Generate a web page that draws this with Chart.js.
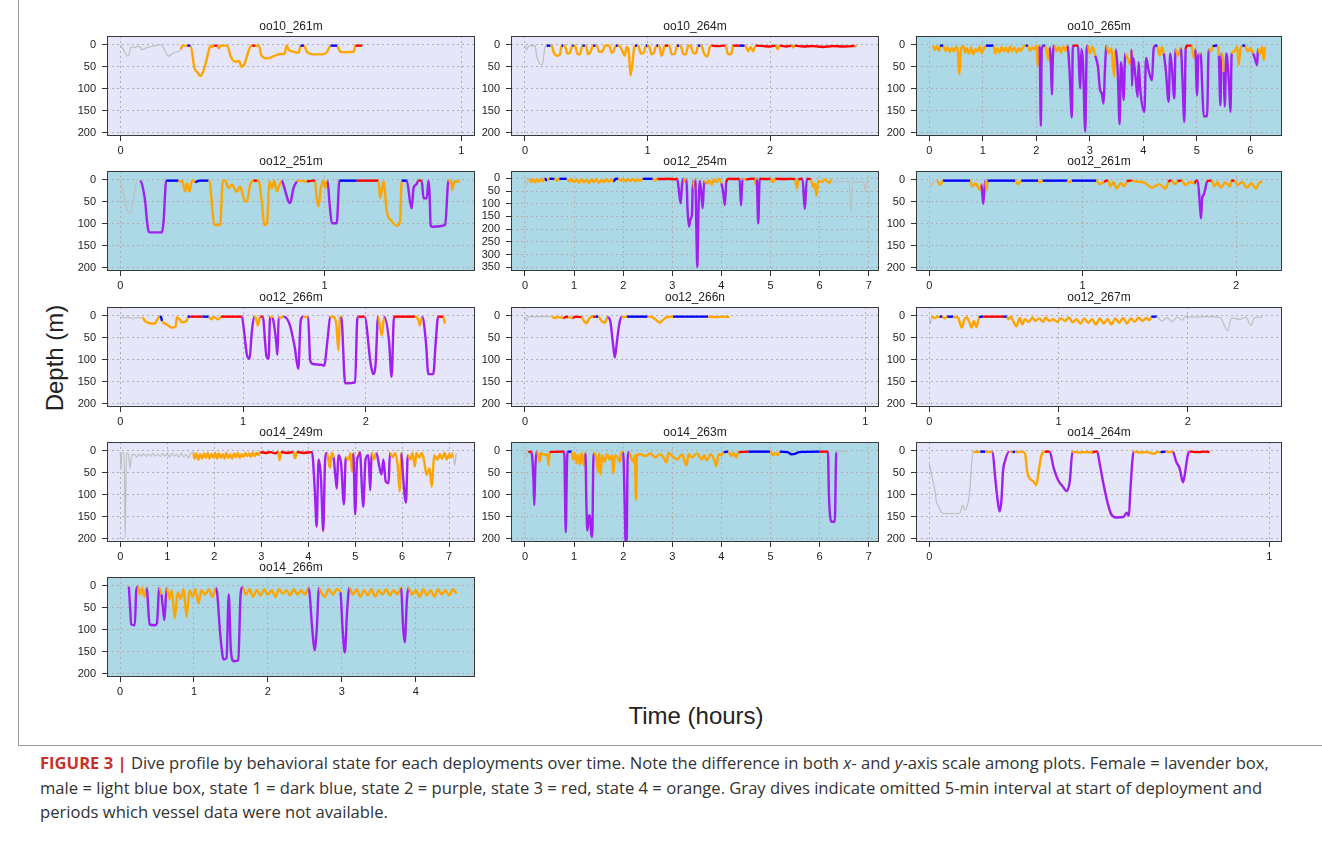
<!DOCTYPE html>
<html>
<head>
<meta charset="utf-8">
<title>Dive profiles</title>
<script src="https://cdn.jsdelivr.net/npm/chart.js@4.4.1/dist/chart.umd.min.js"></script>
<style>
  body {
    margin: 0;
    width: 1322px;
    height: 841px;
    position: relative;
    overflow: hidden;
    background: #fff;
    font-family: "Liberation Sans", Arial, sans-serif;
    color: #222;
  }
  canvas { position: absolute; }
  .frame {
    position: absolute;
    left: 18px;
    top: -2px;
    width: 1310px;
    height: 746px;
    border: 1px solid #9a9a9a;
  }
  .ylab {
    position: absolute;
    left: 55px;
    top: 358px;
    transform: translate(-50%, -50%) rotate(-90deg);
    font-size: 24px;
    white-space: nowrap;
  }
  .xlab {
    position: absolute;
    left: 696px;
    top: 716px;
    transform: translate(-50%, -50%);
    font-size: 24px;
    white-space: nowrap;
  }
  .caption {
    position: absolute;
    left: 40px;
    top: 751px;
    font-family: "Open Sans", "Liberation Sans", Arial, sans-serif;
    font-size: 16.6px;
    line-height: 24.5px;
    color: #333;
    white-space: nowrap;
  }
  .caption b { color: #c8312b; }
</style>
</head>
<body>
<div class="frame"></div>
<div class="ylab">Depth (m)</div>
<div class="xlab">Time (hours)</div>
<div class="caption"><b>FIGURE 3 |</b> Dive profile by behavioral state for each deployments over time. Note the difference in both <i>x</i>- and <i>y</i>-axis scale among plots. Female = lavender box,<br>male = light blue box, state 1 = dark blue, state 2 = purple, state 3 = red, state 4 = orange. Gray dives indicate omitted 5-min interval at start of deployment and<br>periods which vessel data were not available.</div>

<script>
// state 0 = gray (omitted), 1 = dark blue, 2 = purple, 3 = red, 4 = orange
const stateColors = ["#bebebe", "#0000ff", "#a020f0", "#ff0000", "#ffa500"];

const depthTicks = [0, 50, 100, 150, 200];
const depthTicksDeep = [0, 50, 100, 150, 200, 250, 300, 350];
const hours1 = [0, 1];
const hours2 = [0, 1, 2];
const hours4 = [0, 1, 2, 3, 4];
const hours6 = [0, 1, 2, 3, 4, 5, 6];
const hours7 = [0, 1, 2, 3, 4, 5, 6, 7];

// [time (h), depth (m)]  and state runs [start time, state]
const dive1 = [[0,0],[0.008,11],[0.022,26],[0.031,5],[0.041,6],[0.054,3],[0.063,11],[0.078,6],[0.098,3],[0.117,0],[0.127,8],[0.14,26],[0.156,18],[0.176,11],[0.181,2],[0.196,2],[0.205,2],[0.217,54],[0.225,62],[0.233,71],[0.242,62],[0.252,35],[0.264,2],[0.269,5],[0.274,2],[0.283,2],[0.288,8],[0.293,2],[0.301,2],[0.313,2],[0.323,27],[0.337,39],[0.347,37],[0.355,50],[0.364,43],[0.373,20],[0.383,2],[0.386,2],[0.396,2],[0.406,2],[0.413,24],[0.43,31],[0.45,26],[0.469,21],[0.481,21],[0.487,2],[0.494,12],[0.508,16],[0.523,18],[0.528,2],[0.538,2],[0.547,16],[0.567,22],[0.591,22],[0.606,16],[0.616,2],[0.635,2],[0.645,16],[0.66,17],[0.684,16],[0.689,2],[0.709,2]];
const state1 = [[0,0],[0.176,4],[0.196,1],[0.205,4],[0.274,3],[0.283,4],[0.386,3],[0.396,4],[0.528,1],[0.538,4],[0.616,1],[0.635,4],[0.689,3]];

const dive2 = [[0,2],[0.014,12],[0.027,3],[0.054,2],[0.082,2],[0.095,25],[0.117,42],[0.136,46],[0.149,35],[0.163,5],[0.177,2],[0.209,2],[0.217,2],[0.236,18],[0.264,25],[0.285,22],[0.299,2],[0.313,2],[0.326,2],[0.345,20],[0.367,18],[0.386,2],[0.399,2],[0.408,2],[0.427,20],[0.448,22],[0.47,2],[0.489,2],[0.497,2],[0.516,22],[0.535,16],[0.557,2],[0.576,2],[0.584,2],[0.606,16],[0.633,15],[0.652,2],[0.68,2],[0.688,2],[0.707,18],[0.72,16],[0.742,2],[0.758,2],[0.769,2],[0.796,15],[0.815,25],[0.829,5],[0.845,10],[0.861,70],[0.878,40],[0.889,10],[0.899,2],[0.916,2],[0.924,2],[0.946,20],[0.97,18],[0.986,2],[1.0,2],[1.011,2],[1.033,22],[1.052,18],[1.073,2],[1.087,2],[1.095,2],[1.114,25],[1.128,15],[1.141,2],[1.168,2],[1.177,2],[1.198,22],[1.223,20],[1.242,2],[1.258,2],[1.269,2],[1.291,20],[1.313,22],[1.332,2],[1.351,2],[1.372,18],[1.394,20],[1.413,2],[1.432,2],[1.44,2],[1.459,18],[1.489,27],[1.508,5],[1.522,2],[1.57,3],[1.63,2],[1.636,2],[1.658,22],[1.685,20],[1.698,2],[1.75,2],[1.793,2],[1.799,2],[1.821,15],[1.84,5],[1.861,15],[1.883,2],[1.943,3],[1.997,4],[2.046,2],[2.06,10],[2.079,2],[2.133,4],[2.174,2],[2.188,6],[2.201,2],[2.269,4],[2.351,3],[2.432,5],[2.514,3],[2.595,4],[2.677,3],[2.69,2],[2.704,5]];
const state2 = [[0,0],[0.177,1],[0.209,4],[0.299,1],[0.313,4],[0.386,1],[0.399,4],[0.47,1],[0.489,4],[0.557,1],[0.576,4],[0.742,1],[0.758,4],[0.899,1],[0.916,4],[0.986,1],[1.0,4],[1.073,1],[1.087,4],[1.141,3],[1.168,4],[1.242,1],[1.258,4],[1.413,1],[1.432,4],[1.522,3],[1.636,4],[1.698,3],[1.75,1],[1.793,4],[1.883,3],[2.046,4],[2.079,3],[2.174,4],[2.201,3],[2.69,4]];

const dive3 = [[0.07,2],[0.1,12],[0.14,3],[0.18,14],[0.2,2],[0.26,2],[0.3,14],[0.34,6],[0.38,16],[0.42,8],[0.46,15],[0.5,5],[0.53,12],[0.56,68],[0.59,10],[0.63,3],[0.67,18],[0.7,8],[0.74,20],[0.78,6],[0.82,22],[0.86,10],[0.9,15],[0.94,4],[0.98,20],[1.02,8],[1.06,2],[1.2,2],[1.23,20],[1.27,8],[1.31,18],[1.35,5],[1.39,15],[1.43,6],[1.47,18],[1.51,4],[1.55,15],[1.59,6],[1.63,18],[1.67,8],[1.71,14],[1.76,4],[1.8,2],[1.84,2],[1.88,14],[1.92,6],[1.97,10],[2.0,2],[2.027,49],[2.05,5],[2.06,2],[2.083,185],[2.1,10],[2.13,2],[2.16,2],[2.2,20],[2.227,35],[2.25,5],[2.27,40],[2.289,113],[2.31,20],[2.34,2],[2.38,15],[2.42,5],[2.46,18],[2.5,4],[2.54,14],[2.58,2],[2.62,60],[2.663,166],[2.68,2],[2.75,2],[2.78,2],[2.8,60],[2.819,100],[2.84,10],[2.87,40],[2.913,198],[2.94,10],[2.96,2],[3.0,20],[3.05,5],[3.1,25],[3.15,50],[3.19,103],[3.22,110],[3.256,134],[3.28,60],[3.31,2],[3.35,20],[3.4,8],[3.455,73],[3.48,10],[3.52,60],[3.555,181],[3.58,40],[3.6,60],[3.63,126],[3.66,20],[3.7,30],[3.767,46],[3.78,10],[3.786,94],[3.81,30],[3.85,70],[3.892,119],[3.91,40],[3.94,100],[4.017,153],[4.05,30],[4.1,60],[4.16,81],[4.19,10],[4.22,2],[4.26,2],[4.3,25],[4.35,5],[4.38,20],[4.42,60],[4.472,130],[4.5,20],[4.53,50],[4.578,122],[4.6,10],[4.65,25],[4.7,8],[4.73,80],[4.765,176],[4.79,10],[4.815,2],[4.9,2],[4.94,30],[4.97,10],[5.002,115],[5.03,20],[5.07,20],[5.1,100],[5.127,163],[5.19,163],[5.22,10],[5.26,15],[5.3,3],[5.35,2],[5.38,2],[5.41,25],[5.439,138],[5.46,20],[5.501,62],[5.52,141],[5.55,20],[5.6,90],[5.626,153],[5.65,20],[5.7,15],[5.75,4],[5.782,46],[5.81,10],[5.85,2],[5.9,2],[5.95,15],[6.0,8],[6.05,20],[6.08,30],[6.125,46],[6.14,10],[6.18,20],[6.22,5],[6.25,35],[6.27,5]];
const state3 = [[0,4],[0.2,1],[0.26,4],[1.06,1],[1.2,4],[1.8,1],[1.84,4],[2.06,2],[2.13,1],[2.16,4],[2.25,2],[2.34,4],[2.58,2],[2.68,3],[2.78,2],[2.96,4],[3.1,2],[3.31,4],[3.48,2],[3.66,4],[3.78,2],[4.22,1],[4.26,4],[4.38,2],[4.6,4],[4.7,2],[4.79,3],[4.9,4],[4.97,2],[5.03,4],[5.07,2],[5.22,4],[5.3,1],[5.38,4],[5.41,2],[5.46,4],[5.501,2],[5.65,4],[5.85,1],[5.9,4],[6.05,2],[6.14,4]];

const dive4 = [[0,0],[0.008,15],[0.024,50],[0.036,72],[0.046,76],[0.057,65],[0.073,19],[0.082,0],[0.098,2],[0.122,50],[0.131,95],[0.139,118],[0.147,120],[0.204,120],[0.212,95],[0.225,2],[0.285,2],[0.29,4],[0.302,2],[0.318,27],[0.326,8],[0.339,27],[0.351,2],[0.367,5],[0.388,2],[0.432,2],[0.437,2],[0.449,57],[0.46,103],[0.489,103],[0.502,2],[0.514,2],[0.53,19],[0.546,11],[0.571,27],[0.587,15],[0.604,42],[0.62,50],[0.636,11],[0.653,2],[0.669,2],[0.677,2],[0.693,50],[0.705,103],[0.718,99],[0.731,4],[0.742,19],[0.754,2],[0.767,27],[0.78,11],[0.791,2],[0.799,11],[0.824,50],[0.832,53],[0.848,19],[0.865,4],[0.873,2],[0.914,4],[0.94,2],[0.954,2],[0.962,42],[0.971,61],[0.982,19],[0.995,2],[1.003,19],[1.015,2],[1.024,50],[1.036,99],[1.06,99],[1.073,2],[1.158,2],[1.264,2],[1.272,42],[1.289,4],[1.305,72],[1.33,95],[1.354,105],[1.37,95],[1.378,2],[1.403,2],[1.419,50],[1.427,65],[1.436,19],[1.449,11],[1.46,2],[1.476,2],[1.485,42],[1.501,42],[1.509,2],[1.514,25],[1.52,105],[1.533,107],[1.591,103],[1.607,2],[1.618,2],[1.626,23],[1.635,4],[1.664,4]];
const state4 = [[0,0],[0.098,2],[0.225,1],[0.285,4],[0.367,1],[0.432,4],[0.653,3],[0.669,4],[0.791,2],[0.865,4],[0.914,3],[0.954,4],[1.015,2],[1.073,1],[1.158,3],[1.264,4],[1.378,1],[1.403,2],[1.46,3],[1.476,2],[1.607,4]];

const dive5 = [[0,2],[0.03,28],[0.06,5],[0.08,2],[0.12,15],[0.16,4],[0.2,16],[0.24,5],[0.28,14],[0.32,3],[0.36,12],[0.4,2],[0.45,8],[0.5,2],[0.55,2],[0.6,2],[0.65,10],[0.7,2],[0.75,2],[0.8,2],[0.85,2],[0.9,12],[0.95,4],[1.0,15],[1.05,5],[1.1,18],[1.15,4],[1.2,16],[1.25,6],[1.3,18],[1.35,5],[1.4,15],[1.45,4],[1.5,18],[1.55,6],[1.6,16],[1.65,4],[1.7,14],[1.75,5],[1.8,12],[1.85,2],[1.9,2],[1.95,10],[2.0,4],[2.05,12],[2.1,5],[2.15,10],[2.2,3],[2.25,12],[2.3,5],[2.35,10],[2.4,2],[2.6,2],[2.65,8],[2.7,2],[2.8,3],[2.9,2],[3.05,4],[3.1,2],[3.13,40],[3.17,98],[3.2,20],[3.23,2],[3.27,15],[3.29,3],[3.31,120],[3.34,190],[3.37,160],[3.4,144],[3.42,10],[3.45,40],[3.47,5],[3.49,200],[3.51,350],[3.53,150],[3.56,10],[3.59,60],[3.62,118],[3.65,10],[3.7,20],[3.75,8],[3.8,25],[3.85,5],[3.9,15],[3.95,3],[4.0,20],[4.04,60],[4.07,105],[4.1,15],[4.15,2],[4.3,3],[4.37,2],[4.4,107],[4.43,2],[4.5,5],[4.6,2],[4.68,2],[4.7,25],[4.72,2],[4.75,177],[4.78,2],[4.9,3],[5.0,2],[5.05,15],[5.1,2],[5.3,3],[5.4,2],[5.5,3],[5.54,40],[5.57,4],[5.65,2],[5.7,120],[5.74,2],[5.82,3],[5.87,35],[5.9,20],[5.94,68],[5.97,10],[6.05,15],[6.1,5],[6.2,18],[6.24,5],[6.3,15],[6.4,12],[6.5,15],[6.6,12],[6.64,131],[6.67,15],[6.8,14],[6.9,15],[6.93,52],[6.96,15],[7.0,12]];
const state5 = [[0,0],[0.08,4],[0.4,1],[0.45,4],[0.5,1],[0.6,4],[0.7,1],[0.85,4],[1.8,1],[1.9,4],[2.4,1],[2.6,4],[2.7,3],[3.1,2],[3.23,4],[3.29,2],[3.42,4],[3.47,2],[3.65,4],[4.0,2],[4.1,3],[4.37,2],[4.43,4],[4.5,3],[4.68,4],[4.72,2],[4.78,3],[5.0,4],[5.1,3],[5.5,4],[5.57,3],[5.65,2],[5.74,3],[5.82,4],[6.24,0]];

const dive6 = [[0,2],[0.015,15],[0.03,2],[0.05,2],[0.07,12],[0.09,2],[0.265,2],[0.28,15],[0.3,8],[0.33,23],[0.34,10],[0.351,55],[0.36,20],[0.365,2],[0.373,23],[0.38,2],[0.56,2],[0.579,10],[0.6,2],[0.71,2],[0.72,6],[0.74,2],[0.9,2],[0.915,6],[0.93,2],[1.089,2],[1.11,10],[1.14,5],[1.154,2],[1.165,2],[1.18,15],[1.2,5],[1.22,20],[1.25,8],[1.27,15],[1.29,4],[1.306,2],[1.32,2],[1.35,4],[1.4,6],[1.45,18],[1.5,10],[1.54,20],[1.56,5],[1.566,2],[1.58,2],[1.6,10],[1.62,4],[1.631,2],[1.645,2],[1.67,12],[1.7,5],[1.73,8],[1.74,2],[1.75,2],[1.765,60],[1.772,88],[1.78,40],[1.79,34],[1.8,20],[1.81,5],[1.826,2],[1.84,2],[1.86,15],[1.88,5],[1.9,18],[1.93,6],[1.96,15],[1.97,3],[1.978,2],[1.99,2],[2.01,12],[2.04,5],[2.07,18],[2.1,8],[2.13,20],[2.15,8],[2.17,3]];
const state6 = [[0,0],[0.05,4],[0.09,1],[0.265,4],[0.34,2],[0.365,4],[0.38,1],[0.56,4],[0.6,1],[0.71,4],[0.74,1],[0.9,4],[0.93,1],[1.089,4],[1.14,3],[1.165,4],[1.29,3],[1.32,4],[1.56,3],[1.58,4],[1.62,3],[1.645,4],[1.73,3],[1.75,2],[1.81,3],[1.84,4],[1.97,3],[1.99,4]];

const dive7 = [[0,2],[0.03,5],[0.06,3],[0.1,6],[0.14,4],[0.17,5],[0.18,4],[0.2,12],[0.24,17],[0.28,18],[0.3,9],[0.32,2],[0.33,2],[0.34,12],[0.38,20],[0.42,27],[0.45,25],[0.46,3],[0.49,11],[0.5,15],[0.54,12],[0.55,2],[0.57,2],[0.6,2],[0.67,2],[0.72,2],[0.74,8],[0.76,3],[0.8,8],[0.82,2],[0.99,2],[1.01,40],[1.03,87],[1.053,98],[1.07,40],[1.09,2],[1.1,2],[1.12,22],[1.14,2],[1.16,2],[1.19,91],[1.208,98],[1.22,2],[1.24,5],[1.27,60],[1.28,89],[1.29,3],[1.31,4],[1.33,2],[1.38,20],[1.42,70],[1.45,121],[1.47,10],[1.49,2],[1.53,3],[1.547,102],[1.57,110],[1.642,112],[1.66,114],[1.69,50],[1.71,2],[1.74,3],[1.76,20],[1.777,79],[1.79,5],[1.8,2],[1.832,154],[1.913,152],[1.93,10],[1.94,2],[1.99,2],[2.04,110],[2.06,133],[2.08,110],[2.1,2],[2.13,45],[2.15,2],[2.19,60],[2.21,139],[2.23,2],[2.4,2],[2.43,10],[2.44,22],[2.46,2],[2.49,60],[2.51,133],[2.55,133],[2.57,60],[2.59,2],[2.63,2],[2.645,18]];
const state7 = [[0,0],[0.18,4],[0.32,1],[0.34,4],[0.55,1],[0.57,3],[0.67,1],[0.72,4],[0.82,3],[0.99,2],[1.09,4],[1.14,3],[1.16,2],[1.22,4],[1.24,2],[1.29,4],[1.33,2],[1.49,4],[1.53,2],[1.71,4],[1.8,2],[1.94,3],[1.99,2],[2.1,4],[2.15,2],[2.23,3],[2.4,4],[2.46,2],[2.59,3],[2.63,4]];

const dive8 = [[0,2],[0.005,11],[0.01,2],[0.05,2],[0.08,2],[0.085,5],[0.1,3],[0.113,5],[0.122,2],[0.127,3],[0.14,5],[0.147,2],[0.166,3],[0.175,14],[0.181,17],[0.19,5],[0.2,2],[0.208,2],[0.215,2],[0.225,12],[0.235,16],[0.242,3],[0.25,10],[0.258,60],[0.264,95],[0.27,60],[0.278,15],[0.284,2],[0.289,3],[0.3,2],[0.323,2],[0.36,2],[0.365,2],[0.378,5],[0.39,13],[0.396,16],[0.405,10],[0.416,3],[0.435,2],[0.44,2],[0.538,2],[0.56,3],[0.58,2],[0.6,3]];
const state8 = [[0,0],[0.08,4],[0.113,3],[0.127,4],[0.14,3],[0.166,4],[0.2,3],[0.208,1],[0.215,4],[0.242,2],[0.284,4],[0.3,1],[0.36,4],[0.435,1],[0.538,4]];

const dive9 = [[0,2],[0.01,18],[0.018,2],[0.04,5],[0.06,3],[0.08,2],[0.1,2],[0.12,6],[0.14,2],[0.185,2],[0.2,3],[0.224,5],[0.25,27],[0.27,10],[0.288,3],[0.31,15],[0.327,27],[0.345,12],[0.366,26],[0.386,3],[0.404,2],[0.42,2],[0.43,2],[0.5,2],[0.571,2],[0.584,2],[0.6,2],[0.61,8],[0.63,2],[0.65,12],[0.674,24],[0.7,5],[0.72,20],[0.74,8],[0.77,14],[0.8,4],[0.82,12],[0.85,6],[0.88,14],[0.9,4],[0.93,12],[0.96,8],[0.99,14],[1.02,6],[1.05,12],[1.08,4],[1.11,15],[1.14,8],[1.17,18],[1.2,6],[1.23,16],[1.26,8],[1.29,20],[1.32,6],[1.35,18],[1.38,8],[1.41,20],[1.44,6],[1.47,16],[1.5,5],[1.53,18],[1.56,6],[1.59,14],[1.62,4],[1.65,12],[1.68,5],[1.7,10],[1.72,3],[1.73,2],[1.76,2],[1.8,12],[1.84,4],[1.88,14],[1.92,3],[1.96,10],[1.98,2],[2.05,3],[2.15,2],[2.25,4],[2.31,34],[2.34,5],[2.4,8],[2.45,3],[2.49,22],[2.52,4],[2.58,3]];
const state9 = [[0,0],[0.018,4],[0.08,1],[0.1,4],[0.14,1],[0.185,4],[0.386,1],[0.42,3],[0.571,1],[0.6,4],[1.72,1],[1.76,0]];

const dive10 = [[0,2],[0.015,44],[0.03,5],[0.08,5],[0.106,198],[0.13,5],[0.17,8],[0.21,40],[0.24,10],[0.3,8],[0.35,14],[0.4,8],[0.45,12],[0.5,7],[0.55,13],[0.6,8],[0.65,12],[0.7,6],[0.75,12],[0.8,8],[0.85,13],[0.9,6],[0.95,12],[1.0,7],[1.05,14],[1.1,6],[1.15,12],[1.2,8],[1.25,15],[1.3,5],[1.35,14],[1.4,8],[1.45,16],[1.5,6],[1.55,4],[1.58,18],[1.62,6],[1.66,20],[1.7,8],[1.74,18],[1.78,6],[1.82,16],[1.86,5],[1.9,18],[1.94,8],[1.98,15],[2.02,5],[2.06,18],[2.1,6],[2.14,16],[2.18,8],[2.22,18],[2.26,5],[2.3,16],[2.34,8],[2.38,18],[2.42,6],[2.46,15],[2.5,5],[2.54,16],[2.58,8],[2.62,14],[2.66,5],[2.7,12],[2.74,6],[2.78,14],[2.82,4],[2.86,12],[2.9,5],[2.94,10],[2.98,3],[3.1,5],[3.2,3],[3.3,6],[3.36,3],[3.39,21],[3.42,3],[3.55,5],[3.68,3],[3.72,17],[3.76,3],[3.9,5],[4.08,3],[4.14,90],[4.18,173],[4.22,20],[4.27,60],[4.32,183],[4.36,20],[4.4,5],[4.46,39],[4.5,5],[4.54,15],[4.58,60],[4.61,86],[4.64,10],[4.7,30],[4.76,122],[4.8,15],[4.86,20],[4.9,5],[4.93,48],[4.96,5],[5.0,145],[5.04,20],[5.08,10],[5.1,3],[5.15,100],[5.17,128],[5.22,20],[5.28,10],[5.32,90],[5.35,5],[5.4,20],[5.45,5],[5.52,40],[5.56,54],[5.6,20],[5.65,70],[5.71,74],[5.74,5],[5.8,15],[5.85,5],[5.9,30],[5.95,93],[5.98,5],[6.02,60],[6.08,118],[6.12,10],[6.18,20],[6.22,5],[6.27,36],[6.3,5],[6.36,15],[6.42,5],[6.47,25],[6.52,55],[6.58,40],[6.63,82],[6.68,10],[6.75,20],[6.8,8],[6.85,18],[6.9,5],[6.95,20],[7.0,8],[7.05,15],[7.08,5],[7.12,33],[7.15,5]];
const state10 = [[0,0],[1.55,4],[2.98,3],[3.36,4],[3.42,3],[3.68,4],[3.76,3],[4.08,2],[4.4,4],[4.54,2],[4.8,4],[4.96,2],[5.08,3],[5.1,2],[5.35,4],[5.45,2],[5.74,4],[5.98,2],[6.12,4],[7.08,0]];

const dive11 = [[0,2],[0.03,15],[0.07,3],[0.13,2],[0.17,60],[0.19,124],[0.21,40],[0.24,2],[0.28,15],[0.3,25],[0.33,5],[0.4,10],[0.45,8],[0.48,33],[0.5,3],[0.8,2],[0.83,186],[0.86,10],[0.88,2],[0.95,2],[0.98,20],[1.02,5],[1.05,28],[1.08,10],[1.12,31],[1.15,5],[1.2,33],[1.23,5],[1.25,120],[1.27,182],[1.3,150],[1.32,147],[1.35,190],[1.37,196],[1.39,30],[1.4,5],[1.45,15],[1.49,48],[1.51,5],[1.54,55],[1.57,10],[1.62,25],[1.67,8],[1.72,20],[1.77,10],[1.8,52],[1.83,10],[1.88,15],[1.93,25],[1.96,5],[2.0,3],[2.03,120],[2.05,210],[2.07,210],[2.09,20],[2.12,3],[2.16,15],[2.2,25],[2.24,10],[2.26,112],[2.28,10],[2.35,8],[2.45,12],[2.55,6],[2.65,15],[2.75,8],[2.82,15],[2.88,27],[2.92,5],[3.0,12],[3.1,20],[3.2,8],[3.25,25],[3.29,33],[3.33,8],[3.4,15],[3.5,6],[3.6,20],[3.65,10],[3.7,22],[3.78,8],[3.85,20],[3.9,35],[3.94,8],[4.0,10],[4.05,3],[4.14,2],[4.2,12],[4.25,5],[4.3,15],[4.35,3],[4.55,2],[4.99,2],[5.05,10],[5.1,5],[5.15,10],[5.19,2],[5.35,3],[5.42,8],[5.5,7],[5.58,3],[6.0,2],[6.17,2],[6.19,100],[6.24,162],[6.31,162],[6.34,2],[6.55,2]];
const state11 = [[0,0],[0.07,3],[0.13,2],[0.24,4],[0.5,3],[0.8,2],[0.88,1],[0.95,4],[1.23,2],[1.4,4],[2.0,2],[2.12,4],[4.05,1],[4.14,4],[4.35,3],[4.55,1],[4.99,4],[5.19,1],[6.0,3],[6.17,2],[6.34,0]];

const dive12 = [[0,29],[0.007,55],[0.017,93],[0.022,120],[0.026,124],[0.036,141],[0.046,143],[0.08,143],[0.09,142],[0.098,124],[0.105,135],[0.114,118],[0.119,93],[0.124,33],[0.129,2],[0.14,3],[0.15,2],[0.165,2],[0.175,3],[0.186,2],[0.193,55],[0.198,93],[0.203,124],[0.207,138],[0.212,115],[0.217,45],[0.222,25],[0.235,2],[0.245,3],[0.252,2],[0.26,3],[0.27,2],[0.281,5],[0.288,48],[0.295,63],[0.305,69],[0.315,78],[0.32,55],[0.33,10],[0.34,2],[0.354,2],[0.366,40],[0.379,67],[0.393,82],[0.403,92],[0.413,70],[0.421,2],[0.44,4],[0.46,3],[0.48,4],[0.485,2],[0.494,2],[0.501,29],[0.511,71],[0.526,124],[0.535,145],[0.55,152],[0.57,151],[0.581,141],[0.587,148],[0.591,93],[0.601,2],[0.62,4],[0.64,3],[0.66,7],[0.67,3],[0.68,3],[0.695,2],[0.705,3],[0.716,2],[0.726,25],[0.736,40],[0.746,72],[0.751,55],[0.76,10],[0.765,2],[0.79,3],[0.81,2],[0.824,3]];
const state12 = [[0,0],[0.129,4],[0.15,1],[0.165,4],[0.186,2],[0.235,4],[0.245,1],[0.252,4],[0.34,3],[0.354,2],[0.421,4],[0.48,3],[0.494,2],[0.601,4],[0.68,1],[0.695,4],[0.716,2],[0.765,3]];

const dive13 = [[0.12,2],[0.14,60],[0.15,88],[0.2,90],[0.22,10],[0.24,2],[0.27,20],[0.3,5],[0.33,25],[0.36,5],[0.4,88],[0.47,90],[0.5,85],[0.53,5],[0.56,20],[0.58,50],[0.6,78],[0.63,5],[0.67,30],[0.7,10],[0.74,74],[0.78,15],[0.82,30],[0.86,8],[0.9,70],[0.94,10],[0.98,25],[1.02,8],[1.06,40],[1.1,10],[1.15,20],[1.2,8],[1.25,25],[1.3,5],[1.36,120],[1.4,168],[1.44,165],[1.47,20],[1.5,150],[1.54,172],[1.6,170],[1.63,20],[1.66,3],[1.7,20],[1.75,8],[1.8,25],[1.85,10],[1.9,22],[1.95,8],[2.0,20],[2.05,10],[2.1,25],[2.15,8],[2.2,18],[2.25,10],[2.3,22],[2.35,8],[2.4,20],[2.45,10],[2.5,20],[2.55,5],[2.6,100],[2.63,147],[2.66,100],[2.69,5],[2.72,15],[2.77,25],[2.82,8],[2.88,20],[2.93,8],[2.98,15],[3.01,100],[3.04,152],[3.07,60],[3.1,5],[3.15,20],[3.2,8],[3.25,25],[3.3,10],[3.35,22],[3.4,8],[3.45,25],[3.5,10],[3.55,20],[3.6,8],[3.65,22],[3.7,10],[3.75,20],[3.8,5],[3.83,100],[3.85,129],[3.88,30],[3.9,5],[3.95,20],[4.0,10],[4.05,25],[4.1,8],[4.15,22],[4.2,10],[4.25,25],[4.3,8],[4.35,20],[4.4,10],[4.45,22],[4.5,8],[4.55,18]];
const state13 = [[0,4],[0.12,2],[0.24,4],[0.36,2],[0.53,4],[0.56,2],[0.63,4],[1.3,2],[1.66,4],[2.55,2],[2.69,4],[2.98,2],[3.1,4],[3.8,2],[3.9,4]];

const lavender = "#e6e6fa";
const lightBlue = "#add8e6";

const panels = [
  { title: "oo10_261m", points: dive1, states: state1, bg: lavender, col: 0, row: 0, xMin: -0.04, xMax: 1.04, xTicks: hours1 },
  { title: "oo10_264m", points: dive2, states: state2, bg: lavender, col: 1, row: 0, xMin: -0.114, xMax: 2.889, xTicks: hours2 },
  { title: "oo10_265m", points: dive3, states: state3, bg: lightBlue, col: 2, row: 0, xMin: -0.25, xMax: 6.59, xTicks: hours6 },
  { title: "oo12_251m", points: dive4, states: state4, bg: lightBlue, col: 0, row: 1, xMin: -0.065, xMax: 1.737, xTicks: hours1 },
  { title: "oo12_254m", points: dive5, states: state5, bg: lightBlue, col: 1, row: 1, xMin: -0.285, xMax: 7.21, xTicks: hours7, deep: true },
  { title: "oo12_261m", points: dive6, states: state6, bg: lightBlue, col: 2, row: 1, xMin: -0.087, xMax: 2.3, xTicks: hours2 },
  { title: "oo12_266m", points: dive7, states: state7, bg: lavender, col: 0, row: 2, xMin: -0.109, xMax: 2.89, xTicks: hours2 },
  { title: "oo12_266n", points: dive8, states: state8, bg: lavender, col: 1, row: 2, xMin: -0.041, xMax: 1.04, xTicks: hours1 },
  { title: "oo12_267m", points: dive9, states: state9, bg: lavender, col: 2, row: 2, xMin: -0.103, xMax: 2.73, xTicks: hours2 },
  { title: "oo14_249m", points: dive10, states: state10, bg: lavender, col: 0, row: 3, xMin: -0.283, xMax: 7.55, xTicks: hours7 },
  { title: "oo14_263m", points: dive11, states: state11, bg: lightBlue, col: 1, row: 3, xMin: -0.285, xMax: 7.21, xTicks: hours7 },
  { title: "oo14_264m", points: dive12, states: state12, bg: lavender, col: 2, row: 3, xMin: -0.039, xMax: 1.037, xTicks: hours1 },
  { title: "oo14_266m", points: dive13, states: state13, bg: lightBlue, col: 0, row: 4, xMin: -0.176, xMax: 4.8, xTicks: hours4 }
];

const boxLeft = [107, 511, 916];
const boxWidth = [368, 368, 366];
const boxTop = [36, 171, 307, 442, 577];
const boxHeight = 100;
const axisWidth = 52;
const titleHeight = 24;
const axisHeight = 26;
const rightPad = 8;

Chart.defaults.font.family = '"Liberation Sans", Arial, sans-serif';
Chart.defaults.font.size = 11;
Chart.defaults.color = "#222";

// plot region fill and box outline, like base R plot()
const boxPlugin = {
  id: "panelBox",
  beforeDraw(chart, args, opts) {
    const a = chart.chartArea;
    const ctx = chart.ctx;
    ctx.save();
    ctx.fillStyle = opts.color;
    ctx.fillRect(a.left, a.top, a.right - a.left, a.bottom - a.top);
    ctx.restore();
  },
  afterDraw(chart) {
    const a = chart.chartArea;
    const ctx = chart.ctx;
    ctx.save();
    ctx.strokeStyle = "#3a3a3a";
    ctx.lineWidth = 1;
    ctx.strokeRect(a.left + 0.5, a.top + 0.5, a.right - a.left - 1, a.bottom - a.top - 1);
    ctx.restore();
  },
};

function stateAt(runs, t) {
  let s = runs[0][1];
  runs.forEach((r) => {
    if (t >= r[0] - 1e-9) s = r[1];
  });
  return s;
}

function axisStyle() {
  return {
    grid: {
      color: "#b0b0b0",
      lineWidth: 1,
      tickColor: "#333",
      tickLength: 5,
      tickWidth: 1,
      tickBorderDash: [],
    },
    border: { display: false, dash: [2, 3] },
  };
}

panels.forEach((p) => {
  const canvas = document.createElement("canvas");
  const w = boxWidth[p.col] + axisWidth + rightPad;
  const h = titleHeight + boxHeight + axisHeight;
  canvas.width = w;
  canvas.height = h;
  canvas.style.left = boxLeft[p.col] - axisWidth + "px";
  canvas.style.top = boxTop[p.row] - titleHeight + "px";
  document.body.appendChild(canvas);

  const pointStates = p.points.map((pt) => stateAt(p.states, pt[0]));
  const yTicks = p.deep ? depthTicksDeep : depthTicks;

  new Chart(canvas, {
    type: "line",
    data: {
      datasets: [
        {
          data: p.points.map((pt) => ({ x: pt[0], y: pt[1] })),
          borderColor: stateColors[4],
          borderWidth: 2.4,
          pointRadius: 0,
          cubicInterpolationMode: "monotone",
          segment: {
            borderColor: (ctx) => stateColors[pointStates[ctx.p0DataIndex]],
            borderWidth: (ctx) => (pointStates[ctx.p0DataIndex] === 0 ? 1.2 : 2.4),
          },
        },
      ],
    },
    options: {
      responsive: false,
      animation: false,
      events: [],
      layout: { padding: { right: rightPad } },
      scales: {
        x: {
          type: "linear",
          min: p.xMin,
          max: p.xMax,
          afterBuildTicks: (s) => {
            s.ticks = p.xTicks.map((v) => ({ value: v }));
          },
          afterFit: (s) => {
            s.height = axisHeight;
          },
          ...axisStyle(),
          ticks: { padding: 3, maxRotation: 0, autoSkip: false, callback: (v) => String(v) },
        },
        y: {
          type: "linear",
          reverse: true,
          min: p.deep ? -28.7 : -20,
          max: p.deep ? 364.5 : 208,
          afterBuildTicks: (s) => {
            s.ticks = yTicks.map((v) => ({ value: v }));
          },
          afterFit: (s) => {
            s.width = axisWidth;
          },
          ...axisStyle(),
          ticks: { padding: 6, autoSkip: false, callback: (v) => String(v) },
        },
      },
      plugins: {
        legend: { display: false },
        tooltip: { enabled: false },
        title: {
          display: true,
          text: p.title,
          fullSize: false,
          color: "#222",
          font: { size: 12, weight: "normal" },
          padding: { top: 7, bottom: 2.6 },
        },
        panelBox: { color: p.bg },
      },
    },
    plugins: [boxPlugin],
  });
});
</script>
</body>
</html>
